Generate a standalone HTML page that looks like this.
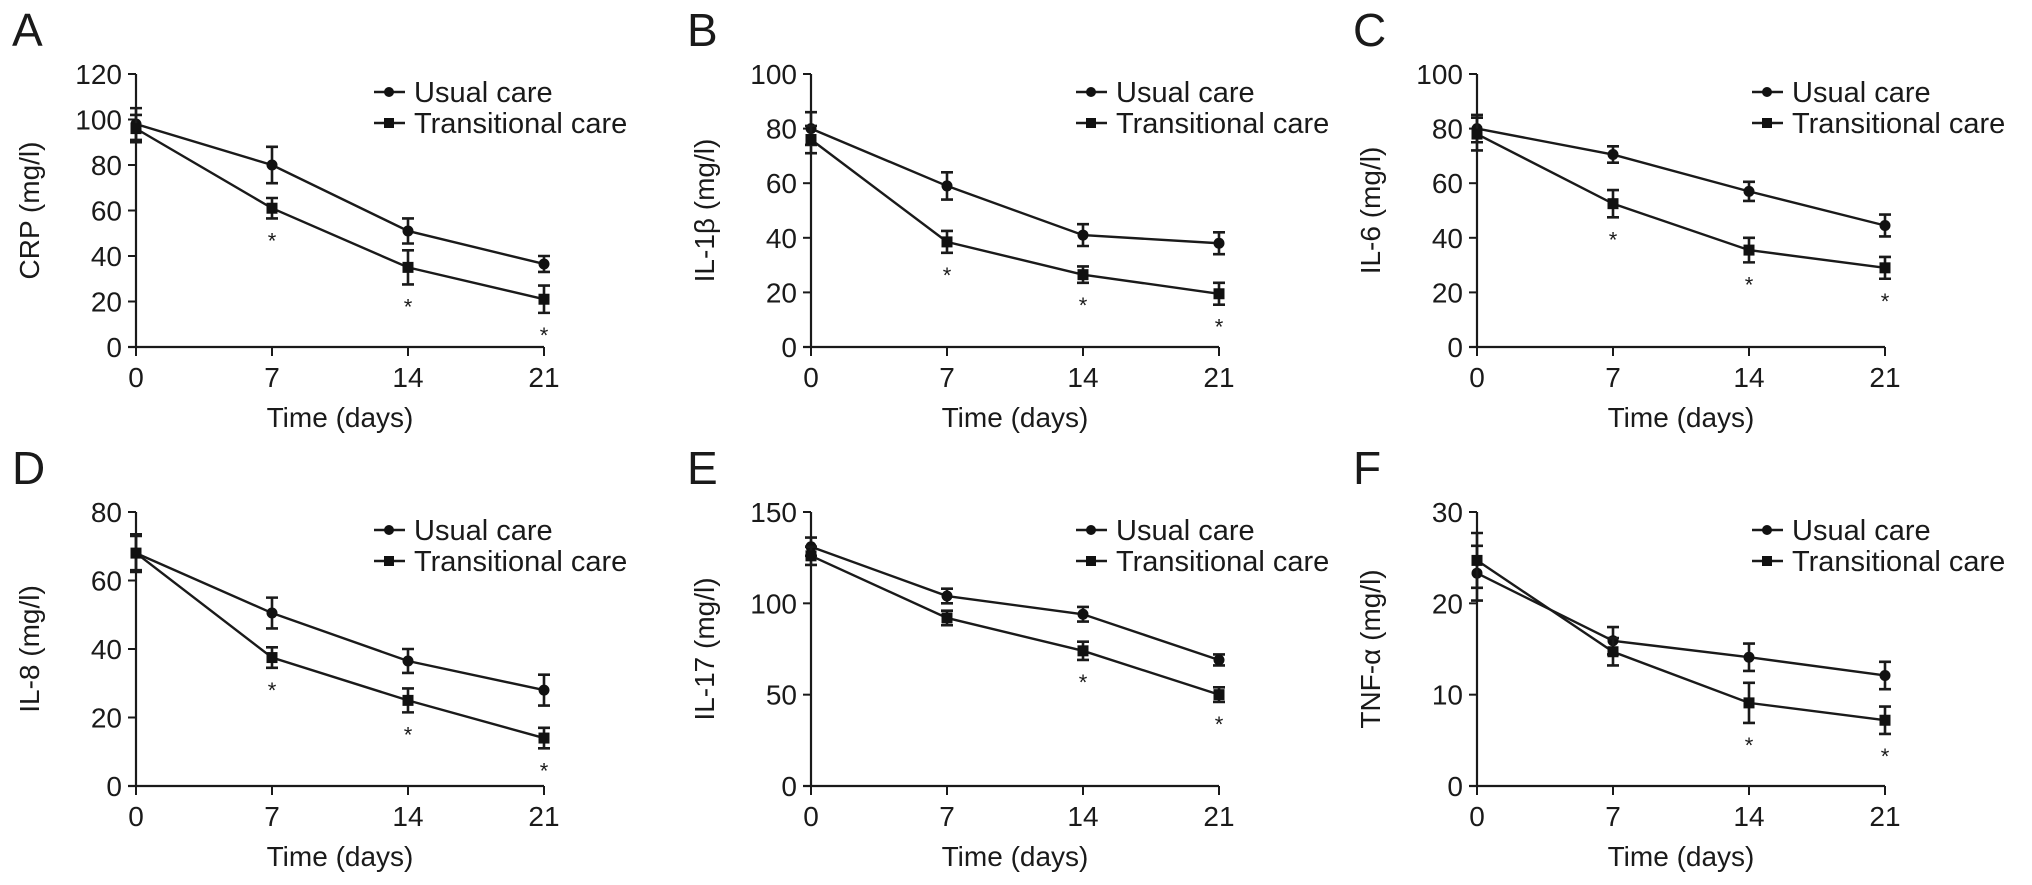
<!DOCTYPE html>
<html><head><meta charset="utf-8"><style>
html,body{margin:0;padding:0;background:#fff}
svg{display:block}
text{font-family:"Liberation Sans",Arial,sans-serif;fill:#1a1a1a}
</style></head><body>
<svg id="fig" width="2032" height="885" viewBox="0 0 2032 885"></svg>
<script>
const days=[0,7,14,21];
const letters=["A","B","C","D","E","F"];
const yTitles=["CRP (mg/l)","IL-1β (mg/l)","IL-6 (mg/l)","IL-8 (mg/l)","IL-17 (mg/l)","TNF-α (mg/l)"];
const yMax=[120,100,100,80,150,30];
const yStep=[20,20,20,20,50,10];
const usualA=[98,80,51,36.5], usualErrA=[7,8,5.5,3.5];
const transA=[96,61,35,21], transErrA=[6,4.5,7.5,6];
const usualB=[80,59,41,38], usualErrB=[6,5,4,4];
const transB=[76,38.5,26.5,19.5], transErrB=[5,4,3,4];
const usualC=[80,70.5,57,44.5], usualErrC=[5,3,3.5,4];
const transC=[78,52.5,35.5,29], transErrC=[6,5,4.5,4];
const usualD=[68,50.5,36.5,28], usualErrD=[5.5,4.5,3.5,4.5];
const transD=[68,37.5,25,14], transErrD=[5,3,3.5,3];
const usualE=[131,104,94,69], usualErrE=[5,4,4,3];
const transE=[126,92,74,50], transErrE=[5,4,5,4];
const usualF=[23.3,15.9,14.1,12.1], usualErrF=[3,1.5,1.5,1.5];
const transF=[24.7,14.7,9.1,7.2], transErrF=[3,1.5,2.2,1.5];
const starsA=[7,14,21],starsB=[7,14,21],starsC=[7,14,21],starsD=[7,14,21],starsE=[14,21],starsF=[14,21];

const usual=[usualA,usualB,usualC,usualD,usualE,usualF];
const usualErr=[usualErrA,usualErrB,usualErrC,usualErrD,usualErrE,usualErrF];
const trans=[transA,transB,transC,transD,transE,transF];
const transErr=[transErrA,transErrB,transErrC,transErrD,transErrE,transErrF];
const stars=[starsA,starsB,starsC,starsD,starsE,starsF];

const NS="http://www.w3.org/2000/svg";
const svg=document.getElementById('fig');
function mk(tag,attrs,parent,txt){const e=document.createElementNS(NS,tag);for(const k in attrs)e.setAttribute(k,attrs[k]);if(txt!==undefined)e.textContent=txt;(parent||svg).appendChild(e);return e;}

const colX=[136,811,1477];
const rowY=[[74,347],[512,786]];
const plotW=408;
const legX=[374,1076,1752];

for(let p=0;p<6;p++){
  const c=p%3,r=Math.floor(p/3);
  const x0=colX[c],yTop=rowY[r][0],yBot=rowY[r][1];
  const g=mk('g',{});
  
  
  const X=d=>x0+d/21*plotW;
  const Y=v=>yBot-v/yMax[p]*(yBot-yTop);
  const lt=mk('text',{x:x0-124,y:yTop-28,'font-size':46},g,letters[p]);
  
  
  const ya=mk('line',{x1:x0,y1:yTop,x2:x0,y2:yBot,stroke:'#1a1a1a','stroke-width':2.2},g);
  
  
  const xa=mk('line',{x1:x0-8,y1:yBot,x2:X(21),y2:yBot,stroke:'#1a1a1a','stroke-width':2.2},g);
  
  
  for(let v=0;v<=yMax[p];v+=yStep[p]){
    mk('line',{x1:x0-8,y1:Y(v),x2:x0,y2:Y(v),stroke:'#1a1a1a','stroke-width':2},g);
    const t=mk('text',{x:x0-14,y:Y(v)+10,'font-size':28,'text-anchor':'end'},g,String(v));
    
    
  }
  for(const d of days){
    mk('line',{x1:X(d),y1:yBot,x2:X(d),y2:yBot+9,stroke:'#1a1a1a','stroke-width':2},g);
    const t=mk('text',{x:X(d),y:yBot+40,'font-size':28,'text-anchor':'middle'},g,String(d));
    
    
  }
  const xt=mk('text',{x:x0+plotW/2,y:yBot+80,'font-size':28,'text-anchor':'middle'},g,'Time (days)');
  
  
  const ymid=(yTop+yBot)/2;
  const tx=x0-97;
  const yt=mk('text',{x:tx,y:ymid,'font-size':28,'text-anchor':'middle',transform:`rotate(-90 ${tx} ${ymid})`},g,yTitles[p]);
  
  
  const series=[[usual[p],usualErr[p],'usual'],[trans[p],transErr[p],'transitional']];
  for(const [vals,errs,nm] of series){
    const pts=days.map((d,i)=>X(d)+','+Y(vals[i])).join(' ');
    const pl=mk('polyline',{points:pts,fill:'none',stroke:'#1a1a1a','stroke-width':2.4},g);
    
    
    days.forEach((d,i)=>{
      const cx=X(d),cy=Y(vals[i]),lo=Y(vals[i]-errs[i]),hi=Y(vals[i]+errs[i]);
      const eb=mk('path',{d:`M${cx},${hi}V${lo}M${cx-6},${hi}H${cx+6}M${cx-6},${lo}H${cx+6}`,stroke:'#1a1a1a','stroke-width':2.6,fill:'none'},g);
      
      
      let m;
      if(nm==='usual') m=mk('circle',{cx:cx,cy:cy,r:5.5,fill:'#111'},g);
      else m=mk('rect',{x:cx-5.5,y:cy-5.5,width:11,height:11,fill:'#111'},g);
      
      
    });
  }
  for(const d of stars[p]){
    const i=days.indexOf(d);
    const lo=Y(trans[p][i]-transErr[p][i]);
    const s=mk('text',{x:X(d),y:lo+30,'font-size':22,'text-anchor':'middle'},g,'*');
    
    
  }
  const lx=legX[c];
  const ly1=yTop+18,ly2=yTop+49;
  const lg=mk('g',{},g);
  
  
  mk('line',{x1:lx,y1:ly1,x2:lx+31,y2:ly1,stroke:'#1a1a1a','stroke-width':2.4},lg);
  mk('circle',{cx:lx+15,cy:ly1,r:5,fill:'#111'},lg);
  const t1=mk('text',{x:lx+40,y:ly1+10,'font-size':29},lg,'Usual care');
  
  
  mk('line',{x1:lx,y1:ly2,x2:lx+31,y2:ly2,stroke:'#1a1a1a','stroke-width':2.4},lg);
  mk('rect',{x:lx+10,y:ly2-5,width:10,height:10,fill:'#111'},lg);
  const t2=mk('text',{x:lx+40,y:ly2+10,'font-size':29},lg,'Transitional care');
  
  
}
</script>
</body></html>
